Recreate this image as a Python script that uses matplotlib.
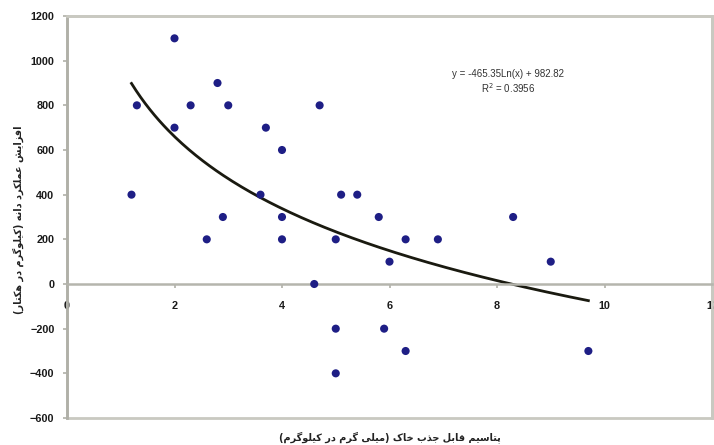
import numpy as np
import matplotlib
matplotlib.use("Agg")
import matplotlib.pyplot as plt
from matplotlib.patches import Rectangle

# ---- data ----
x_vals = [1.2, 1.3, 2.0, 2.0, 2.3, 2.6, 2.8, 2.9, 3.0, 3.6, 3.7, 4.0, 4.0, 4.0, 4.6,
          4.7, 5.0, 5.0, 5.0, 5.1, 5.4, 5.8, 5.9, 6.0, 6.3, 6.3, 6.9, 8.3, 9.0, 9.7]
y_vals = [400, 800, 1100, 700, 800, 200, 900, 300, 800, 400, 700, 600, 300, 200, 0,
          800, 200, -200, -400, 400, 400, 300, -200, 100, 200, -300, 200, 300, 100, -300]
trend_a = -465.35
trend_b = 982.82
r2 = 0.3956
x_ticks = [0, 2, 4, 6, 8, 10, 12]
y_ticks = [-600, -400, -200, 0, 200, 400, 600, 800, 1000, 1200]
y_label = "افزایش عملکرد دانه (کیلوگرم در هکتار)"
x_label = "پتاسیم قابل جذب خاک (میلی گرم در کیلوگرم)"

# ---- minimal Persian shaping for matplotlib (no native RTL shaping) ----
FORMS = {
    'ا': (0xFE8D, 0xFE8E, None, None), 'آ': (0xFE81, 0xFE82, None, None),
    'ب': (0xFE8F, 0xFE90, 0xFE91, 0xFE92), 'پ': (0xFB56, 0xFB57, 0xFB58, 0xFB59),
    'ت': (0xFE95, 0xFE96, 0xFE97, 0xFE98), 'ث': (0xFE99, 0xFE9A, 0xFE9B, 0xFE9C),
    'ج': (0xFE9D, 0xFE9E, 0xFE9F, 0xFEA0), 'چ': (0xFB7A, 0xFB7B, 0xFB7C, 0xFB7D),
    'ح': (0xFEA1, 0xFEA2, 0xFEA3, 0xFEA4), 'خ': (0xFEA5, 0xFEA6, 0xFEA7, 0xFEA8),
    'د': (0xFEA9, 0xFEAA, None, None), 'ذ': (0xFEAB, 0xFEAC, None, None),
    'ر': (0xFEAD, 0xFEAE, None, None), 'ز': (0xFEAF, 0xFEB0, None, None),
    'ژ': (0xFB8A, 0xFB8B, None, None),
    'س': (0xFEB1, 0xFEB2, 0xFEB3, 0xFEB4), 'ش': (0xFEB5, 0xFEB6, 0xFEB7, 0xFEB8),
    'ص': (0xFEB9, 0xFEBA, 0xFEBB, 0xFEBC), 'ض': (0xFEBD, 0xFEBE, 0xFEBF, 0xFEC0),
    'ط': (0xFEC1, 0xFEC2, 0xFEC3, 0xFEC4), 'ظ': (0xFEC5, 0xFEC6, 0xFEC7, 0xFEC8),
    'ع': (0xFEC9, 0xFECA, 0xFECB, 0xFECC), 'غ': (0xFECD, 0xFECE, 0xFECF, 0xFED0),
    'ف': (0xFED1, 0xFED2, 0xFED3, 0xFED4), 'ق': (0xFED5, 0xFED6, 0xFED7, 0xFED8),
    'ک': (0xFB8E, 0xFB8F, 0xFB90, 0xFB91), 'گ': (0xFB92, 0xFB93, 0xFB94, 0xFB95),
    'ل': (0xFEDD, 0xFEDE, 0xFEDF, 0xFEE0), 'م': (0xFEE1, 0xFEE2, 0xFEE3, 0xFEE4),
    'ن': (0xFEE5, 0xFEE6, 0xFEE7, 0xFEE8), 'و': (0xFEED, 0xFEEE, None, None),
    'ه': (0xFEE9, 0xFEEA, 0xFEEB, 0xFEEC), 'ی': (0xFBFC, 0xFBFD, 0xFBFE, 0xFBFF),
}


def shape(text):
    out = []
    n = len(text)
    for i, ch in enumerate(text):
        if ch not in FORMS:
            out.append(ch)
            continue
        f = FORMS[ch]
        prev = text[i - 1] if i > 0 else None
        nxt = text[i + 1] if i + 1 < n else None
        join_prev = prev in FORMS and FORMS[prev][2] is not None
        join_next = nxt in FORMS and f[2] is not None
        if join_prev and join_next:
            cp = f[3]
        elif join_prev:
            cp = f[1]
        elif join_next:
            cp = f[2]
        else:
            cp = f[0]
        out.append(chr(cp))
    vis = ''.join(reversed(out))
    swap = {'(': ')', ')': '('}
    return ''.join(swap.get(c, c) for c in vis)


# ---- figure ----
fig = plt.figure(figsize=(7.14, 4.45), dpi=100)
ax = fig.add_axes([67 / 714, 1 - 418 / 445, (712 - 67) / 714, (418 - 16) / 445])
ax.set_xlim(0, 12)
ax.set_ylim(-600, 1200)

frame_col = '#c9c9c1'
for s in ['top', 'right', 'left']:
    ax.spines[s].set_color(frame_col)
    ax.spines[s].set_linewidth(2.0)
ax.spines['left'].set_color('#b0b0a8')
ax.spines['bottom'].set_position(('data', 0))
ax.spines['bottom'].set_color('#b5b5ad')
ax.spines['bottom'].set_linewidth(1.8)
ax.add_patch(Rectangle((0, 0), 1, 1, transform=ax.transAxes, fill=False,
                       edgecolor=frame_col, linewidth=2.0, clip_on=False, zorder=0))

ax.set_xticks(x_ticks)
ax.set_yticks(y_ticks)
ax.tick_params(axis='both', colors='#b0b0a8', length=3, width=1.2, direction='out',
               labelcolor='#1a1a1a', labelsize=7.8)
for lab in ax.get_xticklabels() + ax.get_yticklabels():
    lab.set_fontweight('bold')
    lab.set_family('Liberation Sans')
ax.tick_params(axis='x', pad=9)
ax.tick_params(axis='y', pad=6)

ax.scatter(x_vals, y_vals, s=34, color='#1e1e85', edgecolors='none', zorder=3)

xs = np.linspace(min(x_vals), max(x_vals), 200)
ax.plot(xs, trend_a * np.log(xs) + trend_b, color='#1a1a10', linewidth=2.0, zorder=2)

eq = f"y = {trend_a:.2f}Ln(x) + {trend_b:.2f}\nR$^2$ = {r2:.4f}"
fig.text(508 / 714, 1 - 82 / 445, eq, fontsize=7, ha='center', va='center',
         color='#333333', family='Liberation Sans', linespacing=1.2)

fig.text(18 / 714, 1 - 220 / 445, shape(y_label), rotation=90, ha='center', va='center',
         fontsize=7, family=['DejaVu Sans'], color='#222222', fontweight='bold')
fig.text(390 / 714, 1 - 437 / 445, shape(x_label), ha='center', va='center',
         fontsize=7, family=['DejaVu Sans'], color='#222222', fontweight='bold')

fig.savefig('out.png', dpi=100)
